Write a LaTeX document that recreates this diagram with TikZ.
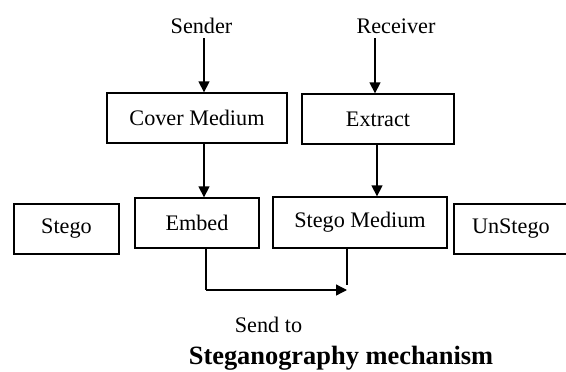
\documentclass[tikz,border=0pt]{standalone}
\usepackage{fontspec}
\setmainfont{Liberation Serif}
\usepackage{tikz}
\usetikzlibrary{arrows.meta}

\begin{document}
\begin{tikzpicture}[x=1pt,y=-1pt,line width=1.3pt,
    font=\fontsize{22.2}{26}\selectfont,
    box/.style={draw,rectangle,inner sep=0pt},
    arr/.style={-{Triangle[length=11pt,width=11pt]}}]
  \useasboundingbox (0,0) rectangle (566,372);
  % Sender side
  \node[anchor=base] (sender) at (201.5,34) {Sender};
  \node[box,minimum width=180pt,minimum height=50pt] (cover) at (197,118) {Cover Medium};
  \node[box,minimum width=124pt,minimum height=50pt] (embed) at (197,223) {Embed};
  \draw[arr] (sender.south -| 204,0) -- (cover.north -| 204,0);
  \draw[arr] (cover.south -| 204,0) -- (embed.north -| 204,0);
  % Receiver side
  \node[anchor=base] (receiver) at (396,34) {Receiver};
  \node[box,minimum width=152pt,minimum height=50pt] (extract) at (378,119) {Extract};
  \node[box,minimum width=174pt,minimum height=51pt] (stegomed) at (360,222.5) {Stego Medium};
  \draw[arr] (receiver.south -| 375,0) -- (extract.north -| 375,0);
  \draw[arr] (extract.south -| 377,0) -- (stegomed.north -| 377,0);
  % Side boxes
  \node[box,minimum width=105pt,minimum height=50pt] (stego) at (66.5,229) {Stego};
  \node[box,minimum width=160pt,minimum height=50pt,text width=124pt,align=left] (unstego) at (534,229) {UnStego};
  % Send to
  \coordinate (bend) at (206,290);
  \coordinate (tip) at (347,290);
  \coordinate (stop) at (347,285);
  \draw (embed.south -| bend) -- (bend);
  \draw[arr] (bend) -- (tip);
  \draw (stegomed.south -| stop) -- (stop);
  \node[anchor=base] (sendto) at (268.5,332) {Send to};
  \node[anchor=base,font=\fontsize{26.4}{30}\selectfont\bfseries] (title) at (341,364.5) {Steganography mechanism};
\end{tikzpicture}
\end{document}
